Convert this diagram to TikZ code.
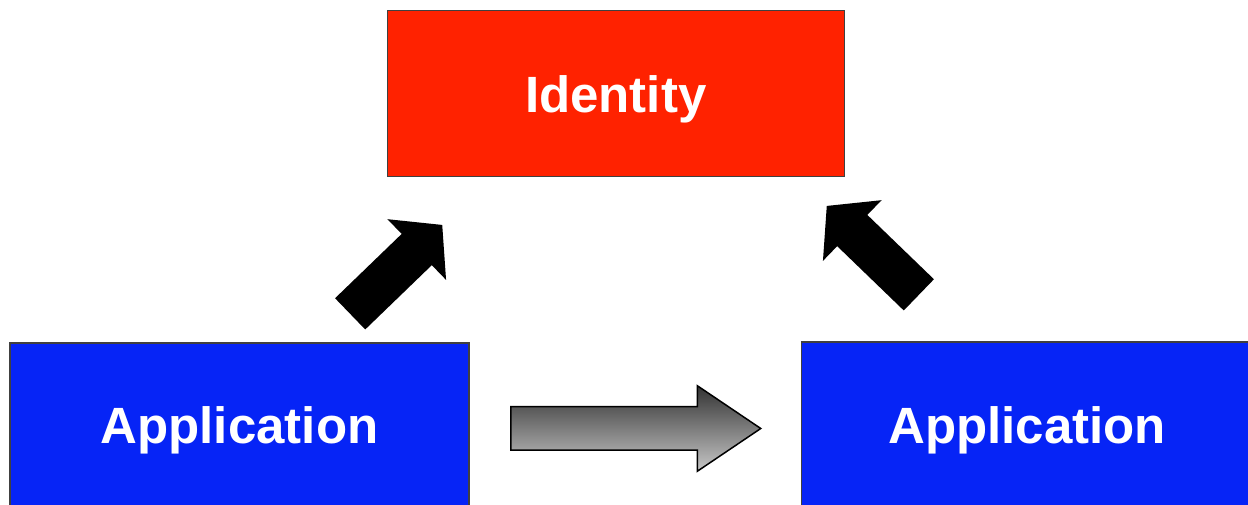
\documentclass[tikz,border=0pt]{standalone}
\usepackage{fontspec}
\setmainfont{Liberation Sans}
\usetikzlibrary{positioning,shapes.arrows}
\definecolor{idred}{HTML}{FF2200}
\definecolor{appblue}{HTML}{0624F6}

\begin{document}
\begin{tikzpicture}[
x=1pt,y=1pt,
every node/.style={font=\fontsize{51}{60}\selectfont\bfseries,text=white,align=center},
box/.style={draw=black!75,line width=1.2pt,inner sep=0pt,text height=37pt,text depth=0pt},
idbox/.style={box,fill=idred,minimum width=457pt,minimum height=166pt},
appbox/.style={box,fill=appblue,minimum width=459pt,minimum height=164pt},
blockarr/.style={single arrow,fill=black,inner sep=21.5pt,minimum height=128pt,single arrow head extend=20.5pt,single arrow tip angle=100,anchor=tail},
flowarr/.style={single arrow,draw=black,line width=1.5pt,top color=black!80,bottom color=black!22,inner sep=21pt,minimum height=250pt,single arrow head extend=21pt,single arrow tip angle=68,anchor=tail}
]
\useasboundingbox[fill=white] (0,0) rectangle (1248,505);
\node[appbox] (app1) at (239.5,80) {Application};
\node[appbox,minimum width=452pt,minimum height=166pt,right=331pt of app1] (app2) {Application};
\node[idbox,above right=165pt and -83pt of app1] (id) {Identity};
\node[blockarr,rotate=44] (toid1) at (350,191) {};
\node[blockarr,rotate=136] (toid2) at (919,210) {};
\node[flowarr] (flow) at (510,76.5) {};
\end{tikzpicture}
\end{document}
